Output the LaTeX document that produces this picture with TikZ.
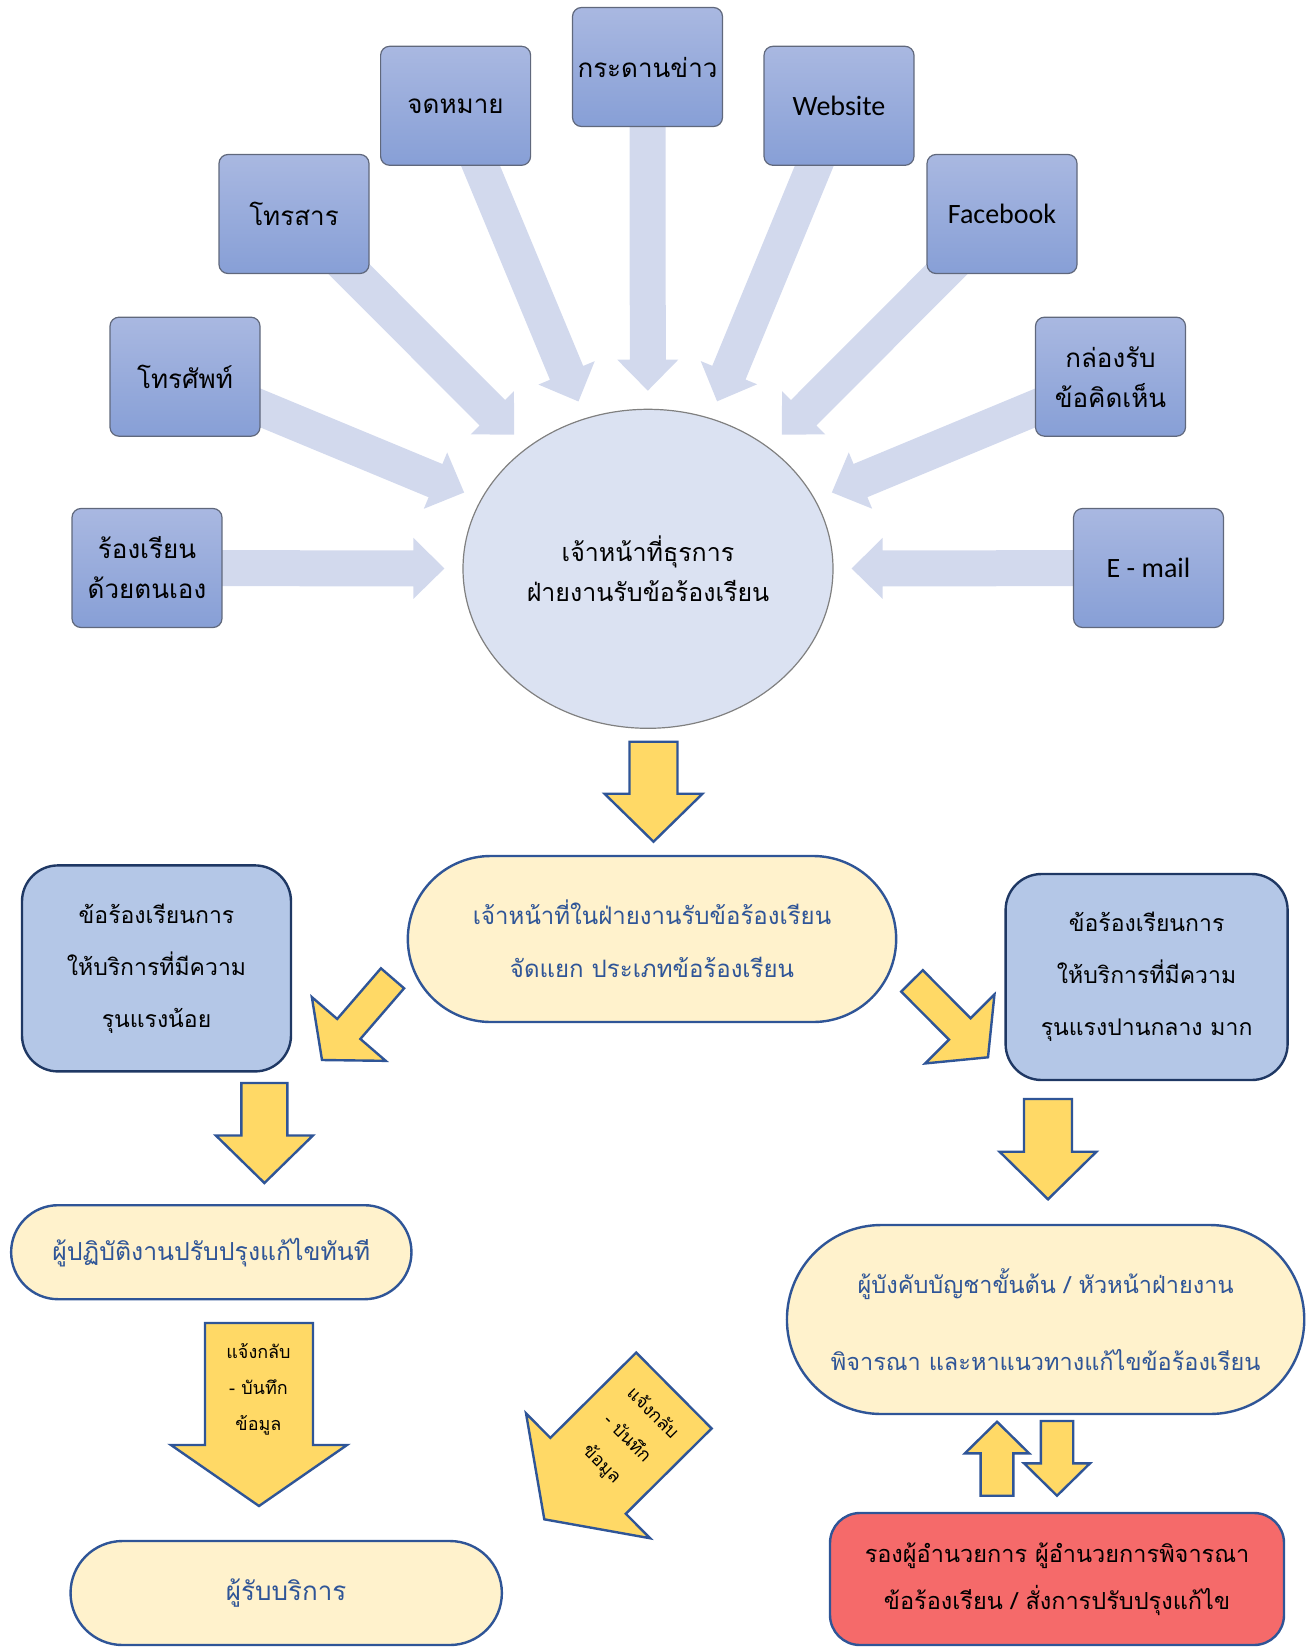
\documentclass[tikz,border=0pt]{standalone}
\usepackage{fontspec}
\setmainfont[Script=Thai]{Loma}
\newfontfamily\latinfont{Carlito}
\usetikzlibrary{calc,shapes.geometric,shapes.misc,backgrounds}

\definecolor{chtop}{RGB}{169,184,225}
\definecolor{chbot}{RGB}{135,159,214}
\definecolor{chline}{RGB}{96,104,124}
\definecolor{feedc}{RGB}{210,217,237}
\definecolor{hubc}{RGB}{219,226,242}
\definecolor{gold}{RGB}{255,217,102}
\definecolor{navy}{RGB}{47,85,151}
\definecolor{deepnavy}{RGB}{31,56,100}
\definecolor{cream}{RGB}{255,242,204}
\definecolor{steel}{RGB}{180,199,231}
\definecolor{coral}{RGB}{245,106,106}

\newcommand\blockarrow[6][]{%
  \draw[#1] ($(#2)!#4!90:(#3)$) -- ($(#3)!#6!(#2)!#4!-90:(#2)$)
    -- ($(#3)!#6!(#2)!#5!-90:(#2)$) -- (#3)
    -- ($(#3)!#6!(#2)!#5!90:(#2)$) -- ($(#3)!#6!(#2)!#4!90:(#2)$)
    -- ($(#2)!#4!-90:(#3)$) -- cycle;}

\begin{document}
\begin{tikzpicture}[x=1pt,y=-1pt,
    chan/.style={rectangle, rounded corners=9pt, draw=chline, line width=1.2pt,
      top color=chtop, bottom color=chbot, minimum width=150pt, minimum height=119pt,
      align=center, font=\fontsize{26}{40}\selectfont},
    feed/.style={fill=feedc, draw=none},
    hubnode/.style={ellipse, fill=hubc, draw=gray, line width=1.2pt, minimum width=370pt,
      minimum height=319pt, inner sep=0pt, align=center, font=\fontsize{25}{40}\selectfont},
    yarrow/.style={fill=gold, draw=navy, line width=2.4pt, line join=miter},
    pill/.style={rounded rectangle, fill=cream, draw=navy, line width=2.4pt, text=navy, align=center},
    grade/.style={rectangle, rounded corners=36pt, fill=steel, draw=deepnavy, line width=2.4pt,
      align=center, font=\fontsize{23}{52}\selectfont},
    note/.style={align=center, font=\fontsize{18}{36}\selectfont}]
  \useasboundingbox (0,0) rectangle (1309,1648);

  \node[hubnode] (hub) at (648,568.8) {เจ้าหน้าที่ธุรการ\\ฝ่ายงานรับข้อร้องเรียน};
  \node[chan] (ch1) at (147,568) {ร้องเรียน\\ด้วยตนเอง};
  \node[chan] (ch2) at (185,376.7) {โทรศัพท์};
  \node[chan] (ch3) at (294,214) {โทรสาร};
  \node[chan] (ch4) at (455.6,105.8) {จดหมาย};
  \node[chan] (ch5) at (647.5,67) {กระดานข่าว};
  \node[chan, font=\latinfont\fontsize{28}{40}\selectfont] (ch6) at (839,105.8) {Website};
  \node[chan, font=\latinfont\fontsize{28}{40}\selectfont] (ch7) at (1002,214) {Facebook};
  \node[chan] (ch8) at (1110.5,376.7) {กล่องรับ\\ข้อคิดเห็น};
  \node[chan, font=\latinfont\fontsize{28}{40}\selectfont] (ch9) at (1148.5,568) {E - mail};

  \begin{pgfonlayer}{background}
    \foreach \i in {1,...,9}{
      \path (ch\i.center) -- coordinate[pos=1] (b\i) (hub);
      \coordinate (p\i) at ($(b\i)!18pt!(ch\i)$);
      \blockarrow[feed]{ch\i.center}{p\i}{18pt}{30.5pt}{31pt}
    }
  \end{pgfonlayer}

  \node[pill, minimum width=495pt, minimum height=166pt, font=\fontsize{24}{53}\selectfont]
    (sort) at (652,939) {เจ้าหน้าที่ในฝ่ายงานรับข้อร้องเรียน\\จัดแยก ประเภทข้อร้องเรียน};
  \node[grade, minimum width=269pt, minimum height=206pt] (low) at (156.5,968.4)
    {ข้อร้องเรียนการ\\ให้บริการที่มีความ\\รุนแรงน้อย};
  \node[grade, minimum width=282pt, minimum height=206pt] (high) at (1146.6,977)
    {ข้อร้องเรียนการ\\ให้บริการที่มีความ\\รุนแรงปานกลาง มาก};
  \node[pill, minimum width=407pt, minimum height=94pt, font=\fontsize{24.8}{40}\selectfont]
    (fix) at (211.3,1252.2) {ผู้ปฏิบัติงานปรับปรุงแก้ไขทันที};
  \node[pill, minimum width=524pt, minimum height=189pt, font=\fontsize{23.5}{77}\selectfont]
    (boss) at (1045.6,1319.5) {ผู้บังคับบัญชาขั้นต้น / หัวหน้าฝ่ายงาน\\พิจารณา และหาแนวทางแก้ไขข้อร้องเรียน};
  \node[rectangle, rounded corners=30pt, fill=coral, draw=navy, line width=2.4pt,
    minimum width=454pt, minimum height=132pt, align=center, font=\fontsize{23.5}{47}\selectfont]
    (exec) at (1057,1579) {รองผู้อำนวยการ ผู้อำนวยการพิจารณา\\ข้อร้องเรียน / สั่งการปรับปรุงแก้ไข};
  \node[pill, minimum width=438pt, minimum height=104pt, font=\fontsize{26}{40}\selectfont]
    (client) at (286.2,1593) {ผู้รับบริการ};

  \coordinate (y1t) at (653.5,741.7); \coordinate (y1h) at (653.5,841.7);
  \coordinate (y2t) at (392.5,978.3); \coordinate (y2h) at (322,1060);
  \coordinate (y3t) at (912,980.9);   \coordinate (y3h) at (988,1057.3);
  \coordinate (y4t) at (264.4,1083);  \coordinate (y4h) at (264.4,1183);
  \coordinate (y5t) at (1048,1099);   \coordinate (y5h) at (1048,1199.3);
  \coordinate (y6t) at (259,1323);    \coordinate (y6h) at (259,1506);
  \coordinate (y7t) at (673.9,1390.5); \coordinate (y7h) at (544.3,1519.3);
  \coordinate (y8t) at (997,1495.7);  \coordinate (y8h) at (997,1421.7);
  \coordinate (y9t) at (1057,1421);   \coordinate (y9h) at (1057,1495.7);

  \blockarrow[yarrow]{y1t}{y1h}{24pt}{49pt}{48pt}
  \blockarrow[yarrow]{y2t}{y2h}{15.3pt}{48.8pt}{41pt}
  \blockarrow[yarrow]{y3t}{y3h}{15.2pt}{48.9pt}{40pt}
  \blockarrow[yarrow]{y4t}{y4h}{23pt}{48.5pt}{47.5pt}
  \blockarrow[yarrow]{y5t}{y5h}{24pt}{48.4pt}{47.6pt}
  \blockarrow[yarrow]{y6t}{y6h}{54pt}{88pt}{61pt}
  \blockarrow[yarrow]{y7t}{y7h}{53.5pt}{88pt}{61.7pt}
  \blockarrow[yarrow]{y8t}{y8h}{16.4pt}{32.2pt}{31.7pt}
  \blockarrow[yarrow]{y9t}{y9h}{16.2pt}{33pt}{32.4pt}

  \node[note] (tell1) at (258.5,1389) {แจ้งกลับ\\- บันทึก\\ข้อมูล};
  \node[note, rotate=-45] (tell2) at (627,1439) {แจ้งกลับ\\- บันทึก\\ข้อมูล};
\end{tikzpicture}
\end{document}
